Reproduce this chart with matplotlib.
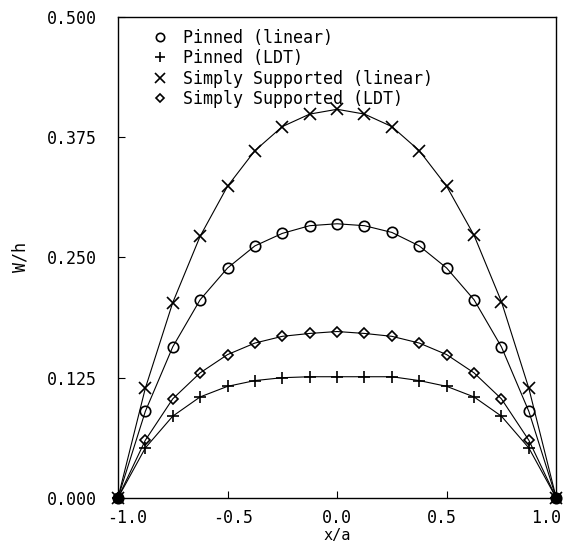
import matplotlib
matplotlib.use("Agg")
import matplotlib.pyplot as plt
from matplotlib.lines import Line2D
from matplotlib.transforms import ScaledTranslation

x = [-1.0, -0.875, -0.75, -0.625, -0.5, -0.375, -0.25, -0.125, 0.0,
     0.125, 0.25, 0.375, 0.5, 0.625, 0.75, 0.875, 1.0]
pinned_linear = [0.0, 0.090, 0.157, 0.206, 0.239, 0.262, 0.275, 0.283, 0.285,
                 0.283, 0.276, 0.262, 0.239, 0.206, 0.157, 0.090, 0.0]
pinned_ldt = [0.0, 0.052, 0.085, 0.105, 0.116, 0.122, 0.125, 0.126, 0.126,
              0.126, 0.126, 0.122, 0.116, 0.105, 0.085, 0.052, 0.0]
ss_linear = [0.0, 0.114, 0.203, 0.272, 0.324, 0.361, 0.386, 0.399, 0.404,
             0.399, 0.386, 0.361, 0.324, 0.273, 0.204, 0.114, 0.0]
ss_ldt = [0.0, 0.060, 0.103, 0.130, 0.149, 0.161, 0.168, 0.171, 0.173,
          0.171, 0.168, 0.161, 0.149, 0.130, 0.103, 0.060, 0.0]
labels = ["Pinned (linear)", "Pinned (LDT)", "Simply Supported (linear)",
          "Simply Supported (LDT)"]
xticks = [-1.0, -0.5, 0.0, 0.5, 1.0]
yticks = [0.0, 0.125, 0.25, 0.375, 0.5]

plt.rcParams['font.family'] = ['DejaVu Sans Mono']
fig = plt.figure(figsize=(5.67, 5.46), dpi=100)
ax = fig.add_axes([0.208, 0.088, 0.773, 0.881])

series = [pinned_linear, pinned_ldt, ss_linear, ss_ldt]
markers = ['o', '+', 'x', 'D']
msizes = [7.5, 9, 9, 5]
for ys, m, ms in zip(series, markers, msizes):
    ax.plot(x, ys, color='black', linewidth=0.8, marker=m, markersize=ms,
            markerfacecolor='none', markeredgecolor='black', markeredgewidth=1.2,
            clip_on=False)

ax.plot([-1, 1], [0, 0], linestyle='none', marker='s', markersize=6,
        color='black', clip_on=False)

ax.set_xlim(-1.0, 1.0)
ax.set_ylim(0.0, 0.5)
ax.set_xticks(xticks)
ax.set_xticklabels([f"{v:.1f}" for v in xticks])
ax.set_yticks(yticks)
ax.set_yticklabels([f"{v:.3f}" for v in yticks])
ax.tick_params(axis='y', direction='in', length=5, pad=15, labelsize=12)
ax.tick_params(axis='x', direction='in', length=5, pad=8, labelsize=12)
for s in ax.spines.values():
    s.set_linewidth(1.0)

# old-style label placement: numbers centred ignoring the minus sign
offsets_px = [9, 6, 0, -5, -10]
for lab, dx in zip(ax.get_xticklabels(), offsets_px):
    lab.set_transform(lab.get_transform() +
                      ScaledTranslation(dx / 100, 0, fig.dpi_scale_trans))

ax.set_xlabel("x/a", fontsize=11, labelpad=1)
ax.set_ylabel("W/h", fontsize=12, labelpad=13)

handles = [Line2D([], [], linestyle='none', marker=m, markersize=ms * 0.8,
                  markerfacecolor='none', markeredgecolor='black',
                  markeredgewidth=1.2)
           for m, ms in zip(markers, msizes)]
ax.legend(handles, labels, loc='upper left', frameon=False, fontsize=12,
          handlelength=1.0, handletextpad=0.9, labelspacing=0.15,
          borderaxespad=0.3, bbox_to_anchor=(0.05, 1.0))

fig.savefig("out.png", dpi=100)
